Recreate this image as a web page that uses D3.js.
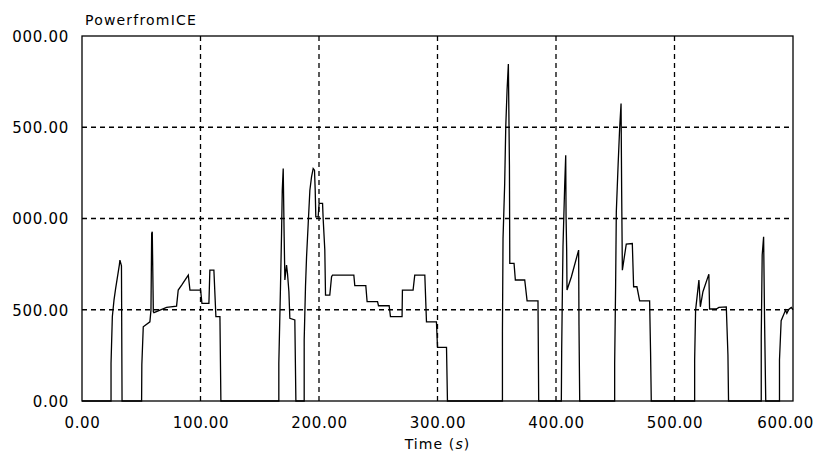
<!DOCTYPE html>
<html>
<head>
<meta charset="utf-8">
<script src="https://cdn.jsdelivr.net/npm/d3@7"></script>
<style>
  html, body { margin: 0; padding: 0; background: #fff; }
  svg { display: block; }
  text { font-family: "DejaVu Sans", sans-serif; fill: #000; }
</style>
</head>
<body>
<svg id="chart" width="815" height="456"></svg>
<script>
// Power delivered by the ICE over the drive cycle
const chartTitle = "PowerfromICE";
const xTicks = [0, 100, 200, 300, 400, 500, 600];
const yTicks = [0, 500, 1000, 1500, 2000];

// time (s)
const timeS = [
  0, 24.5, 24.5, 25.6, 27, 28.4, 30.6, 31.5, 32, 33.3, 33.8,
  50.3, 50.5, 51.7, 57.3, 58.2, 58.8, 59.3, 60.2, 60.7, 71.4, 79.8, 81.2, 84.1, 89.7, 91.1,
  100.1, 101.2, 107.1, 107.9, 111.3, 113, 116.4, 117.2,
  166.1, 166.1, 167.5, 168.4, 169, 169.8, 170.6, 171.2, 172.6, 173.4, 174.6, 175.4, 179.6, 180.5,
  187.5, 187.5, 188.6, 189.5, 190.9, 192.3, 193.7, 195.1, 196.2, 196.8, 197.3, 199.3, 200.1,
  203, 203.5, 204.9, 205.5, 209.1, 210.6, 211.4, 229.4, 230.2, 239.5, 240.6, 249.4, 250.2,
  259.2, 260.3, 270.1, 270.4, 279.4, 280.8, 289.3, 290.7, 299.1, 300, 307.6, 308.4,
  354.8, 354.8, 355.3, 356.7, 357.6, 358.7, 359.8, 360.7, 361, 364.6, 365.7, 373.6, 375.6, 384.8, 385.4,
  404.5, 404.8, 405.4, 405.9, 407.3, 408.2, 408.5, 409, 409.3, 413, 419.1, 419.4, 420,
  449.5, 449.5, 450.3, 450.9, 452.4, 453.7, 454.9, 455.4, 456, 459.3, 464.4, 465.5, 468.3, 470.6, 479, 479.8, 480.4,
  517, 517, 517.8, 518.9, 520.6, 521.8, 524, 529, 529.6, 535.2, 537.5, 543.7, 545.1, 545.6,
  573.2, 573.2, 574, 575.2, 576, 577,
  588.6, 588.6, 590, 592, 593.7, 594.8, 596.4, 598.5, 600
];

// power
const powerIce = [
  0, 0, 206, 462, 553, 617, 708, 745, 772, 740, 0,
  0, 200, 407, 434, 498, 918, 927, 489, 484, 513, 520, 608, 635, 690, 608,
  608, 535, 535, 717, 717, 462, 462, 0,
  0, 206, 626, 918, 1155, 1274, 900, 663, 745, 700, 599, 453, 444, 0,
  0, 334, 626, 790, 973, 1155, 1228, 1274, 1265, 1155, 1009, 1009, 1083,
  1083, 1000, 827, 580, 580, 681, 690, 690, 632, 632, 544, 544, 522,
  522, 462, 462, 608, 608, 690, 690, 434, 434, 294, 294, 0,
  0, 380, 891, 1192, 1502, 1703, 1846, 1292, 754, 754, 663, 663, 549, 549, 0,
  0, 279, 608, 845, 1174, 1347, 1009, 827, 608, 681, 827, 416, 0,
  0, 206, 626, 1037, 1292, 1493, 1630, 1155, 717, 860, 863, 626, 626, 549, 549, 270, 0,
  0, 225, 498, 562, 663, 516, 599, 695, 504, 504, 513, 516, 252, 0,
  0, 352, 800, 900, 444, 0,
  0, 225, 440, 471, 498, 480, 502, 513, 500
];

const W = 815, H = 456;
const margin = { top: 36, right: 22, bottom: 55, left: 82 };

const svg = d3.select("#chart");

const x = d3.scaleLinear().domain([0, 600]).range([margin.left, W - margin.right]);
const y = d3.scaleLinear().domain([0, 2000]).range([H - margin.bottom, margin.top]);

const fmt = d3.format(".2f");

// dashed grid (inner ticks only; the frame covers the outer ones)
const grid = svg.append("g")
  .attr("stroke", "#000")
  .attr("stroke-width", 1.3)
  .attr("stroke-dasharray", "5,4")
  .attr("fill", "none");

grid.selectAll("line.v")
  .data(xTicks.slice(1, -1))
  .join("line")
  .attr("class", "v")
  .attr("x1", d => x(d)).attr("x2", d => x(d))
  .attr("y1", y(2000)).attr("y2", y(0));

grid.selectAll("line.h")
  .data(yTicks.slice(1, -1))
  .join("line")
  .attr("class", "h")
  .attr("x1", x(0)).attr("x2", x(600))
  .attr("y1", d => y(d)).attr("y2", d => y(d));

// trace
const series = timeS.map((t, i) => [t, powerIce[i]]);
const line = d3.line().x(d => x(d[0])).y(d => y(d[1]));

svg.append("path")
  .datum(series)
  .attr("d", line)
  .attr("fill", "none")
  .attr("stroke", "#000")
  .attr("stroke-width", 1.3)
  .attr("stroke-linejoin", "miter");

// frame
svg.append("rect")
  .attr("x", x(0)).attr("y", y(2000))
  .attr("width", x(600) - x(0)).attr("height", y(0) - y(2000))
  .attr("fill", "none")
  .attr("stroke", "#000")
  .attr("stroke-width", 1.3);

// y labels live in a fixed-width label strip
svg.append("clipPath").attr("id", "ylabel-clip")
  .append("rect").attr("x", 12).attr("y", 0).attr("width", 70).attr("height", H);

const yAxis = d3.axisLeft(y).tickValues(yTicks).tickFormat(fmt).tickSize(0).tickPadding(0);
const yStrip = svg.append("g").attr("clip-path", "url(#ylabel-clip)");
const yg = yStrip.append("g")
  .attr("transform", "translate(69,0)")
  .call(yAxis);
yg.select(".domain").remove();
yg.selectAll("text")
  .attr("font-family", "DejaVu Sans, sans-serif")
  .attr("font-size", 15)
  .attr("letter-spacing", 0.7)
  .attr("fill", "#000")
  .attr("dy", "0.36em");

// x labels
const xAxis = d3.axisBottom(x).tickValues(xTicks).tickFormat(fmt).tickSize(0).tickPadding(0);
const xg = svg.append("g")
  .attr("transform", `translate(0,${y(0)})`)
  .call(xAxis);
xg.select(".domain").remove();
xg.selectAll("text")
  .attr("font-family", "DejaVu Sans, sans-serif")
  .attr("font-size", 15)
  .attr("letter-spacing", 0.7)
  .attr("fill", "#000")
  .attr("y", 27)
  .attr("dy", 0);
// keep the last label inside the page
xg.selectAll(".tick").each(function () {
  const t = d3.select(this).select("text");
  const bb = this.getBBox();
  const m = this.transform.baseVal.consolidate().matrix;
  const right = m.e + bb.x + bb.width;
  if (right > W - 1) t.attr("x", (W - 1) - right);
});

// title
svg.append("text")
  .attr("x", 85).attr("y", 25)
  .attr("font-size", 14)
  .attr("letter-spacing", 1.2)
  .text(chartTitle);

// x axis title
const xt = svg.append("text")
  .attr("x", x(300)).attr("y", 449)
  .attr("text-anchor", "middle")
  .attr("font-size", 14)
  .attr("letter-spacing", 1.1);
xt.append("tspan").text("Time (");
xt.append("tspan").attr("font-style", "italic").text("s");
xt.append("tspan").text(")");
</script>
</body>
</html>
